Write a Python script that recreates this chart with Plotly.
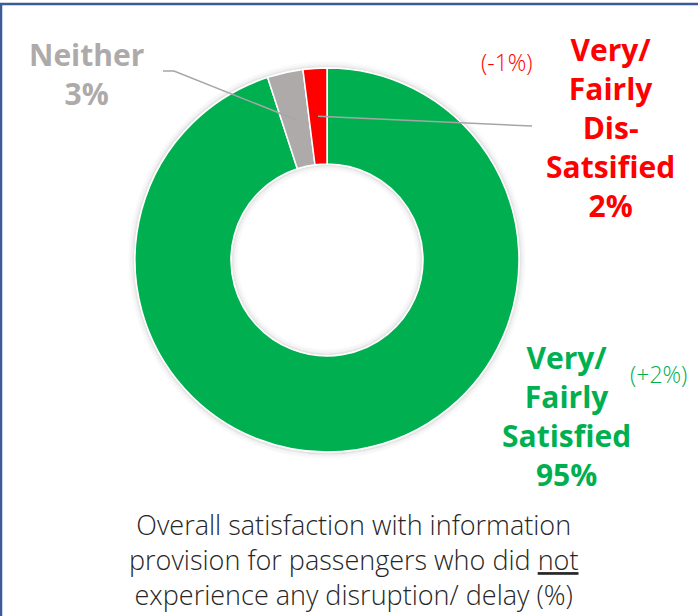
import math
import plotly.graph_objects as go

W, H = 698, 616

labels = ["Very/ Fairly Satisfied", "Neither", "Very/ Fairly Dis-Satsified"]
values = [95, 3, 2]
changes = ["(+2%)", None, "(-1%)"]
colors = ["#00B050", "#AEAAAA", "#FF0000"]
label_texts = [
    "<b>Very/<br>Fairly<br>Satisfied<br>95%</b>",
    "<b>Neither<br>3%</b>",
    "<b>Very/<br>Fairly<br>Dis-<br>Satsified<br>2%</b>",
]
caption = ("Overall satisfaction with information<br>provision for passengers who did "
           "<u>not</u><br>experience any disruption/ delay (%)")

# geometry in pixels
CX, CY, R = 327, 260, 192
HOLE = 0.5


def px(x):
    return x / W


def py(y):
    return 1 - y / H


fig = go.Figure()
fig.add_trace(go.Pie(
    labels=labels, values=values, hole=HOLE, sort=False, direction="clockwise",
    rotation=0, textinfo="none", hoverinfo="label+percent",
    marker=dict(colors=colors, line=dict(color="white", width=1.5)),
    domain=dict(x=[px(CX - R), px(CX + R)], y=[py(CY + R), py(CY - R)]),
    showlegend=False,
))

# slice mid-points (computed from the data)
tot = sum(values)
mids = []
acc = 0
for v in values:
    a = (acc + v / 2) / tot * 2 * math.pi
    rm = R * (1 + HOLE) / 2
    mids.append((CX + rm * math.sin(a), CY - rm * math.cos(a)))
    acc += v

shapes = []
# soft shadow around ring
for dr, op in [(1.5, 0.10), (3.0, 0.06), (4.5, 0.035), (6.0, 0.02)]:
    for rr in (R + dr, R * HOLE - dr):
        shapes.append(dict(type="circle", xref="paper", yref="paper",
                           x0=px(CX - rr), x1=px(CX + rr), y0=py(CY + rr), y1=py(CY - rr),
                           line=dict(color=f"rgba(0,0,0,{op})", width=1.6), layer="below"))

lc = "#A6A6A6"
nx, ny = mids[1]
shapes.append(dict(type="path", xref="paper", yref="paper",
                   path=f"M {px(163)},{py(71)} L {px(174)},{py(71)} L {px(nx)},{py(ny)}",
                   line=dict(color=lc, width=1.5)))
rx, ry = mids[2]
shapes.append(dict(type="line", xref="paper", yref="paper",
                   x0=px(rx), y0=py(ry), x1=px(532), y1=py(126),
                   line=dict(color=lc, width=1.5)))
# frame
bc = "#3A5A98"
shapes.append(dict(type="line", xref="paper", yref="paper", x0=px(1), x1=px(1),
                   y0=py(3), y1=py(H + 5), line=dict(color=bc, width=2.5)))
shapes.append(dict(type="line", xref="paper", yref="paper", x0=px(0), x1=px(W + 5),
                   y0=py(4), y1=py(4), line=dict(color=bc, width=2.5)))

FONT = "Open Sans"
ann = []
ann.append(dict(text=label_texts[1], x=px(86), y=py(74), font=dict(size=30, color="#AEAAAA", family=FONT)))
ann.append(dict(text=label_texts[2], x=px(610), y=py(127), font=dict(size=30, color="#FF0000", family=FONT)))
ann.append(dict(text=label_texts[0], x=px(566), y=py(416), font=dict(size=30, color="#00B050", family=FONT)))
ann.append(dict(text=changes[2], x=px(507), y=py(62), font=dict(size=23, color="#FF0000", family=FONT, weight=300)))
ann.append(dict(text=changes[0], x=px(658), y=py(374), font=dict(size=23, color="#00B050", family=FONT, weight=300)))
ann.append(dict(text=caption, x=px(353), y=py(559), font=dict(size=27, color="#262626", family=FONT, weight=300)))
for a in ann:
    a.update(xref="paper", yref="paper", xanchor="center", yanchor="middle", showarrow=False)

fig.update_layout(
    width=W, height=H, margin=dict(l=0, r=0, t=0, b=0),
    paper_bgcolor="white", plot_bgcolor="white",
    shapes=shapes, annotations=ann,
)
fig.write_html("out.html", config={"displayModeBar": False},
               post_script="document.body.style.margin='0';document.body.style.overflow='hidden';")
